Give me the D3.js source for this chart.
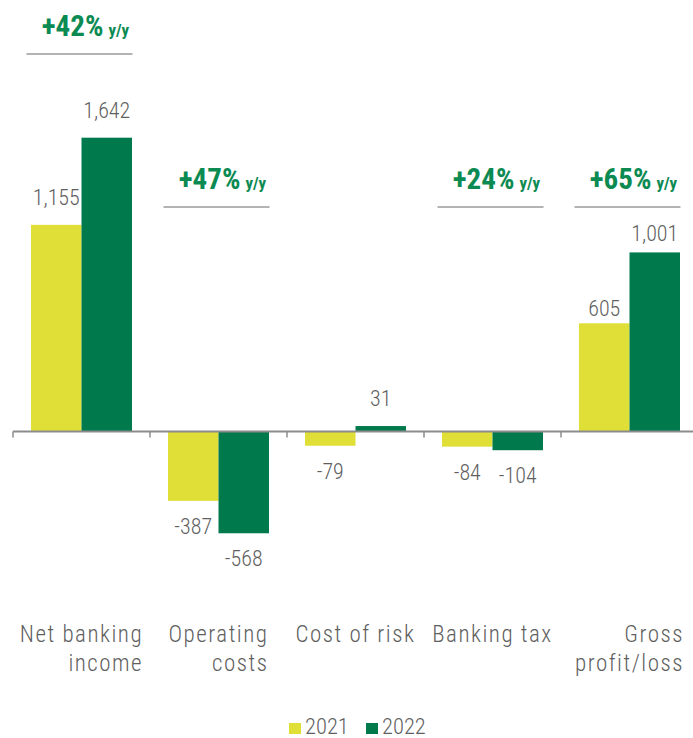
<!DOCTYPE html>
<html>
<head>
<meta charset="utf-8">
<script src="https://cdn.jsdelivr.net/npm/d3@7/dist/d3.min.js"></script>
<style>
  html, body { margin: 0; padding: 0; background: #fff; }
  svg { display: block; }
  text { font-family: "Roboto Condensed", "Liberation Sans", sans-serif; font-weight: 300; }
</style>
</head>
<body>
<svg id="chart" width="693" height="738"></svg>
<script>
// Income statement items, PLN m
const categories = ["Net banking income", "Operating costs", "Cost of risk", "Banking tax", "Gross profit/loss"];
const categoryLines = [["Net banking", "income"], ["Operating", "costs"], ["Cost of risk"], ["Banking tax"], ["Gross", "profit/loss"]];
const series = ["2021", "2022"];
const values2021 = [1155, -387, -79, -84, 605];
const values2022 = [1642, -568, 31, -104, 1001];
// Year-on-year change callouts
const changeCategories = ["Net banking income", "Operating costs", "Banking tax", "Gross profit/loss"];
const changeLabels = ["+42%", "+47%", "+24%", "+65%"];

const colors = { "2021": "#e0df37", "2022": "#00794c" };
const labelColor = "#5f5f5f";
const accent = "#0b8a52";

const svg = d3.select("#chart");
const W = 693;

const x = d3.scaleBand().domain(categories).range([13, 698]).padding(0);
const xs = d3.scaleBand().domain(series).range([18, x.bandwidth() - 18]).padding(0);
const y = d3.scaleLinear().domain([-600, 2400]).range([539, 2]);

const rows = [];
categories.forEach((c, i) => {
  rows.push({ cat: c, year: "2021", v: values2021[i] });
  rows.push({ cat: c, year: "2022", v: values2022[i] });
});

// bars
svg.append("g").selectAll("rect").data(rows).join("rect")
  .attr("x", d => x(d.cat) + xs(d.year))
  .attr("width", xs.bandwidth())
  .attr("y", d => y(Math.max(0, d.v)))
  .attr("height", d => Math.abs(y(d.v) - y(0)))
  .attr("fill", d => colors[d.year]);

// zero axis with category boundary ticks
const axisG = svg.append("g");
axisG.append("line")
  .attr("x1", x.range()[0]).attr("x2", W)
  .attr("y1", y(0)).attr("y2", y(0))
  .attr("stroke", "#8c8c8c").attr("stroke-width", 2);
axisG.selectAll("line.tick").data(categories).join("line")
  .attr("class", "tick")
  .attr("x1", d => x(d)).attr("x2", d => x(d))
  .attr("y1", y(0)).attr("y2", y(0) + 6)
  .attr("stroke", "#8c8c8c").attr("stroke-width", 1.5);

// value labels (plain hyphen for negatives)
const fmt = v => d3.format(",")(v).replace("\u2212", "-");
const liftAbove = { "Gross profit/loss|2021": 7, "Gross profit/loss|2022": 11 };
svg.append("g").selectAll("text").data(rows).join("text")
  .attr("x", d => x(d.cat) + xs(d.year) + xs.bandwidth() / 2)
  .attr("y", d => d.v >= 0
    ? y(d.v) - (liftAbove[d.cat + "|" + d.year] ?? 20)
    : y(d.v) + 33)
  .attr("text-anchor", "middle")
  .attr("font-size", 22)
  .attr("fill", labelColor)
  .text(d => fmt(d.v));

// category labels: block centred on the band, lines right-aligned
categories.forEach((c, i) => {
  const g = svg.append("g");
  const lines = categoryLines[i];
  const texts = lines.map((t, k) => g.append("text")
    .attr("y", 642 + k * 28.5)
    .attr("font-size", 23)
    .attr("letter-spacing", 1.5)
    .attr("fill", labelColor)
    .attr("text-anchor", "end")
    .text(t));
  const maxW = d3.max(texts, t => t.node().getComputedTextLength());
  const right = x(c) + x.bandwidth() / 2 + maxW / 2;
  texts.forEach(t => t.attr("x", right));
});

// y/y change callouts
changeCategories.forEach((c, i) => {
  const cx = x(c) + x.bandwidth() / 2 - 2;
  const lineY = c === "Net banking income" ? 54 : 207;
  svg.append("line")
    .attr("x1", cx - 53).attr("x2", cx + 53)
    .attr("y1", lineY).attr("y2", lineY)
    .attr("stroke", "#b3b3b3").attr("stroke-width", 2);
  const t = svg.append("text")
    .attr("x", cx + 6).attr("y", lineY - 18)
    .attr("text-anchor", "middle")
    .attr("fill", accent)
    .style("font-weight", 700);
  t.append("tspan").attr("font-size", 29).text(changeLabels[i]);
  t.append("tspan").attr("font-size", 17).attr("dx", 5).text("y/y");
});

// legend
const legend = svg.append("g");
const legendX = [289, 366];
series.forEach((s, i) => {
  legend.append("rect")
    .attr("x", legendX[i]).attr("y", 723)
    .attr("width", 12).attr("height", 11)
    .attr("fill", colors[s]);
  legend.append("text")
    .attr("x", legendX[i] + 16).attr("y", 734)
    .attr("font-size", 22.5)
    .attr("fill", labelColor)
    .text(s);
});
</script>
</body>
</html>
